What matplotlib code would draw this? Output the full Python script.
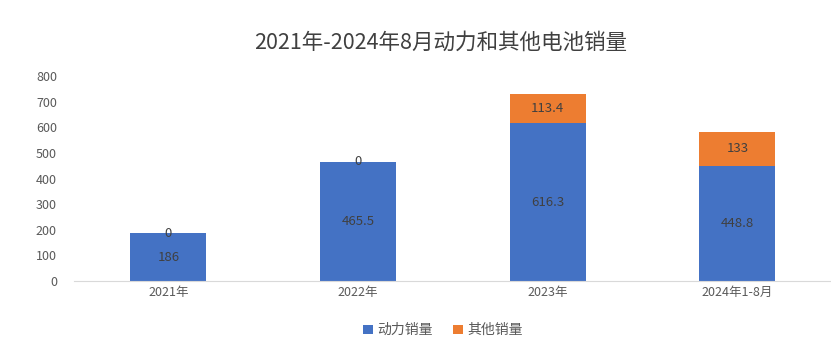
import matplotlib.pyplot as plt
import numpy as np

plt.rcParams['font.family'] = ['Noto Sans CJK SC', 'DejaVu Sans']

categories = ['2021年', '2022年', '2023年', '2024年1-8月']
power_sales = [186, 465.5, 616.3, 448.8]
other_sales = [0, 0, 113.4, 133]
power_labels = ['186', '465.5', '616.3', '448.8']
other_labels = ['0', '0', '113.4', '133']

blue = '#4472C4'
orange = '#ED7D31'
txt = '#404040'

fig = plt.figure(figsize=(8.31, 3.57), dpi=100)
ax = fig.add_axes([0.0885, 0.213, 0.913, 0.574])

x = np.arange(len(categories))
b1 = ax.bar(x, power_sales, width=0.4, color=blue, label='动力销量')
b2 = ax.bar(x, other_sales, width=0.4, bottom=power_sales, color=orange, label='其他销量')

for i in range(len(categories)):
    ax.text(x[i], power_sales[i] / 2, power_labels[i], ha='center', va='center',
            fontsize=9.5, color=txt)
    ax.text(x[i], power_sales[i] + other_sales[i] / 2, other_labels[i], ha='center',
            va='center', fontsize=9.5, color=txt)

ax.set_xlim(-0.5, len(categories) - 0.5)
ax.set_ylim(0, 800)
ax.set_yticks(range(0, 801, 100))
ax.set_xticks(x)
ax.set_xticklabels(categories)
ax.tick_params(axis='both', length=0, labelsize=9, colors='#595959')
ax.tick_params(axis='y', pad=12)
for s in ['top', 'right', 'left']:
    ax.spines[s].set_visible(False)
ax.spines['bottom'].set_color('#d9d9d9')

fig.text(0.53, 0.88, '2021年-2024年8月动力和其他电池销量', ha='center', va='center',
         fontsize=15.5, color='#404040')

fig.legend(handles=[b1, b2], loc='center', bbox_to_anchor=(0.533, 0.075), ncol=2,
           frameon=False, fontsize=10, handlelength=0.7, handleheight=0.7,
           handletextpad=0.3, columnspacing=1.5, labelcolor='#595959')

fig.savefig('out.png', dpi=100)
